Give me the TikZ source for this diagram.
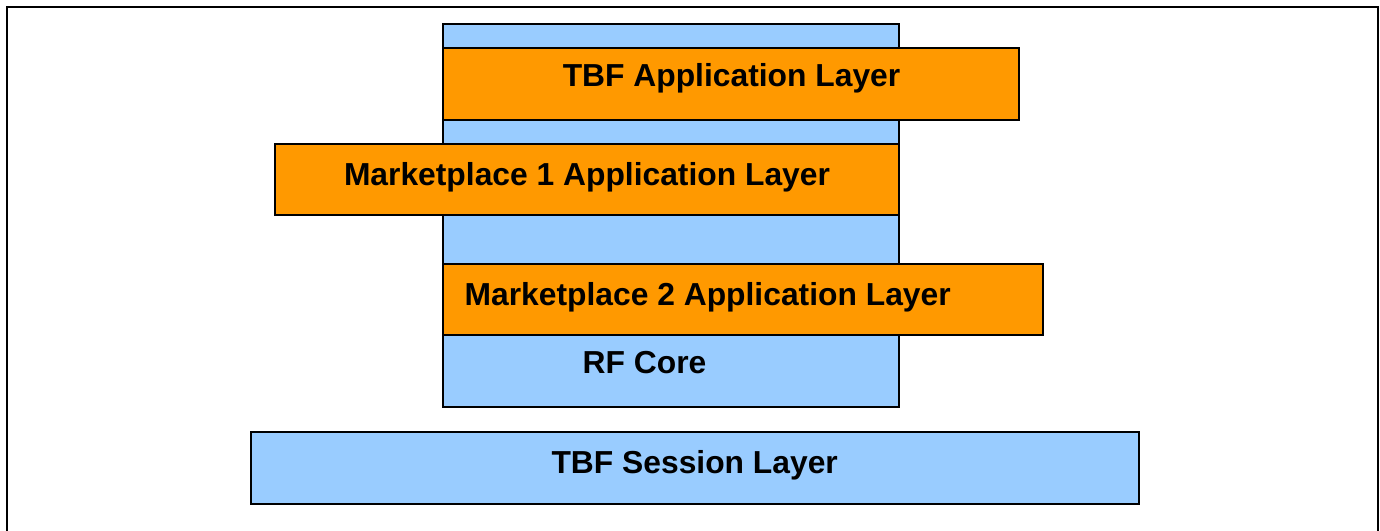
\documentclass[tikz,border=0pt]{standalone}
\usepackage{fontspec}
\setmainfont{Liberation Sans}
\usepackage{tikz}
\usetikzlibrary{positioning}
\definecolor{coreblue}{HTML}{99CCFF}
\definecolor{apporange}{HTML}{FF9900}
\tikzstyle{frame} = [draw, line width = 1.5pt]
\tikzstyle{core} = [rectangle, draw, fill = coreblue, line width = 1.1pt, inner sep = 0pt]
\tikzstyle{app} = [rectangle, draw, fill = apporange, line width = 1.1pt, inner sep = 0pt]
\tikzstyle{label} = [anchor = base, inner sep = 0pt, font = \fontsize{23.85}{28}\selectfont\bfseries]

\begin{document}
\begin{tikzpicture}[x = 0.75pt, y = -0.75pt]
			\useasboundingbox (0, 0) rectangle (1380, 531);
			\clip (0, 0) rectangle (1380, 531);
			% Outer frame
			\draw [frame] (7, 7) rectangle (1378, 560);
			% Place boxes
			\node [core, minimum width = 342pt, minimum height = 287.25pt] (rfcore) at (671, 215.5) {};
			\node [app, minimum width = 432pt, minimum height = 54pt] (tbfapp) at (731, 84) {};
			\node [app, minimum width = 468pt, minimum height = 53.25pt] (mp1) at (587, 179.5) {};
			\node [app, minimum width = 450pt, minimum height = 53.25pt] (mp2) at (743, 299.5) {};
			\node [core, minimum width = 666pt, minimum height = 54pt] (session) at (695, 468) {};
			% Place labels
			\node [label] (tbfapptext) at (731.5, 86.7) {TBF Application Layer};
			\node [label] (mp1text) at (587, 185.3) {Marketplace 1 Application Layer};
			\node [label] (mp2text) at (707.7, 305.3) {Marketplace 2 Application Layer};
			\node [label] (rfcoretext) at (644.5, 373.3) {RF Core};
			\node [label] (sessiontext) at (694.7, 473.3) {TBF Session Layer};
		\end{tikzpicture}
\end{document}
